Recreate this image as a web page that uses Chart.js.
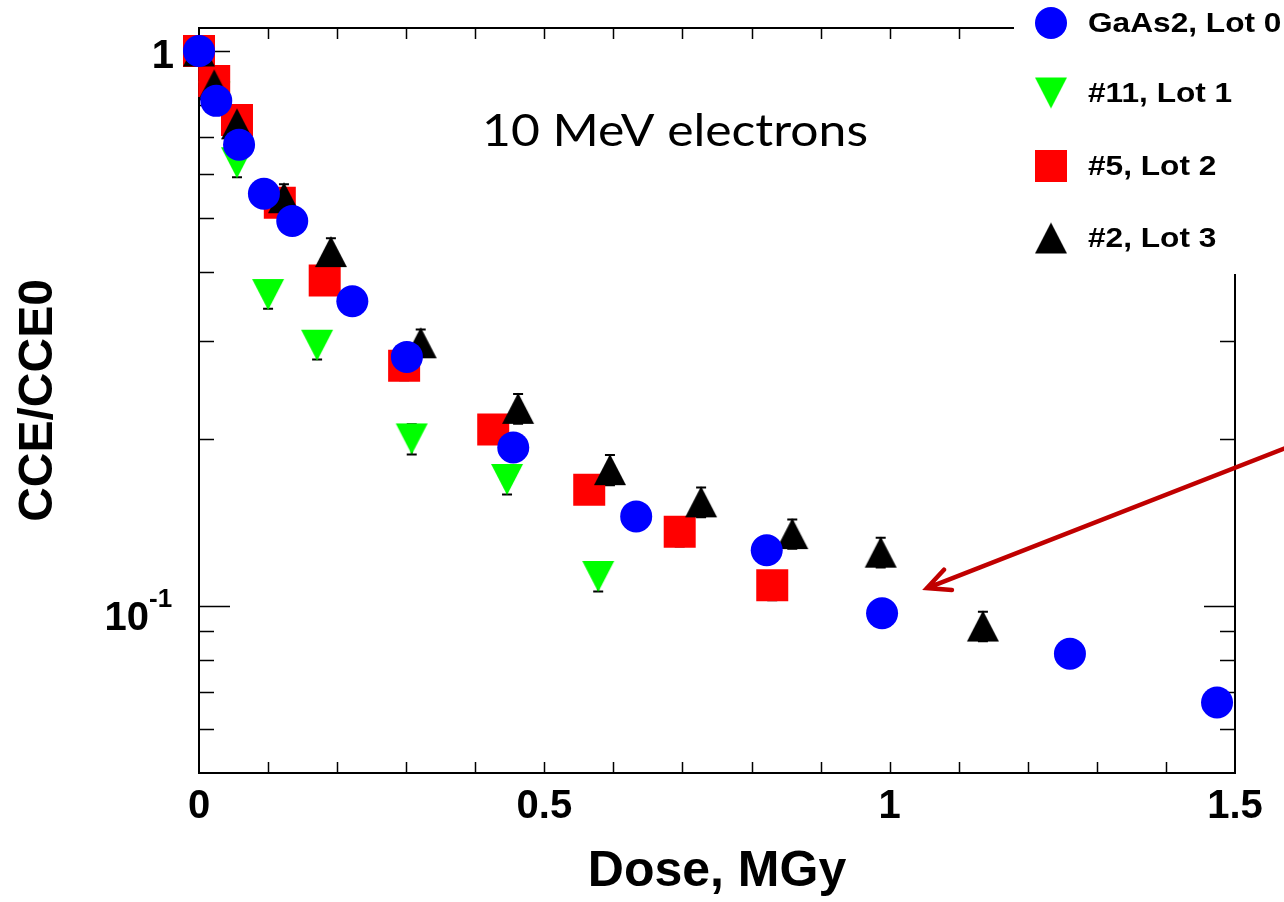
<!DOCTYPE html>
<html>
<head>
<meta charset="utf-8">
<title>CCE/CCE0 vs dose, 10 MeV electrons</title>
<script src="https://cdn.jsdelivr.net/npm/chart.js@4.4.1/dist/chart.umd.min.js"></script>
<style>
  html, body { margin: 0; padding: 0; background: #fff; }
  canvas { display: block; }
</style>
</head>
<body>
<canvas id="cce" width="1284" height="902"></canvas>
<script>
const seriesNames = ['GaAs2, Lot 0', '#11, Lot 1', '#5, Lot 2', '#2, Lot 3'];

// GaAs2, Lot 0
const doseLot0 = [0, 0.025, 0.058, 0.094, 0.135, 0.222, 0.301, 0.455, 0.633, 0.822, 0.989, 1.261, 1.474];
const cceLot0 = [1.0, 0.813, 0.678, 0.553, 0.494, 0.354, 0.281, 0.193, 0.145, 0.126, 0.097, 0.082, 0.067];

// #11, Lot 1
const doseLot1 = [0, 0.022, 0.055, 0.100, 0.171, 0.308, 0.446, 0.578];
const cceLot1 = [1.0, 0.827, 0.629, 0.364, 0.295, 0.200, 0.169, 0.113];
const errLot1 = [0.06, 0.048, 0.037, 0.021, 0.017, 0.0125, 0.0102, 0.0068];

// #5, Lot 2
const doseLot2 = [0, 0.022, 0.055, 0.117, 0.182, 0.297, 0.426, 0.565, 0.696, 0.830];
const cceLot2 = [1.0, 0.883, 0.751, 0.533, 0.386, 0.271, 0.208, 0.162, 0.136, 0.109];
const errLot2 = [0.06, 0.051, 0.043, 0.031, 0.022, 0.016, 0.012, 0.0094, 0.008, 0.0066];

// #2, Lot 3
const doseLot3 = [0, 0.022, 0.055, 0.123, 0.191, 0.321, 0.462, 0.595, 0.727, 0.859, 0.987, 1.135];
const cceLot3 = [1.0, 0.869, 0.739, 0.544, 0.435, 0.298, 0.227, 0.176, 0.154, 0.135, 0.125, 0.092];
const errLot3 = [0.06, 0.05, 0.042, 0.031, 0.025, 0.017, 0.014, 0.011, 0.0095, 0.0082, 0.0077, 0.0056];

// axis labels
const xTickValues = [0, 0.5, 1, 1.5];
const xTickLabels = ['0', '0.5', '1', '1.5'];
const yTickValues = [1, 0.1];
const yTickBases = ['1', '10'];
const yTickExponents = ['', '-1'];

const BOLD = '"Liberation Sans", Arial, sans-serif';

function toPoints(xs, ys, errs) {
  return xs.map((x, i) => ({ x: x, y: ys[i], err: errs ? errs[i] : 0 }));
}

// triangle markers drawn as small canvases so they sit centred on the point
function triangleMarker(color, down) {
  const c = document.createElement('canvas');
  c.width = 34;
  c.height = 33;
  const g = c.getContext('2d');
  g.fillStyle = color;
  g.beginPath();
  if (down) {
    g.moveTo(1, 1); g.lineTo(33, 1); g.lineTo(17, 32);
  } else {
    g.moveTo(17, 1); g.lineTo(33, 32); g.lineTo(1, 32);
  }
  g.closePath();
  g.fill();
  return c;
}

const greenDown = triangleMarker('#00ff00', true);
const blackUp = triangleMarker('#000000', false);

// frame with inward ticks on all four sides, plus error bars under the markers
const framePlugin = {
  id: 'frame',
  beforeDatasetsDraw(chart) {
    const { ctx, chartArea: a, scales: { x, y } } = chart;
    ctx.save();
    ctx.strokeStyle = '#000';
    ctx.lineWidth = 2;
    ctx.strokeRect(a.left, a.top, a.right - a.left, a.bottom - a.top);
    ctx.lineWidth = 1.5;
    ctx.beginPath();
    for (let i = 1; i < 15; i++) {
      const px = Math.round(x.getPixelForValue(i / 10)) + 0.5;
      ctx.moveTo(px, a.bottom); ctx.lineTo(px, a.bottom - 11);
      ctx.moveTo(px, a.top); ctx.lineTo(px, a.top + 11);
    }
    const yMinor = [0.06, 0.07, 0.08, 0.09, 0.2, 0.3, 0.4, 0.5, 0.6, 0.7, 0.8, 0.9];
    yMinor.forEach(v => {
      const py = Math.round(y.getPixelForValue(v)) + 0.5;
      ctx.moveTo(a.left, py); ctx.lineTo(a.left + 15, py);
      ctx.moveTo(a.right, py); ctx.lineTo(a.right - 15, py);
    });
    yTickValues.forEach(v => {
      const py = Math.round(y.getPixelForValue(v)) + 0.5;
      ctx.moveTo(a.left, py); ctx.lineTo(a.left + 31, py);
      ctx.moveTo(a.right, py); ctx.lineTo(a.right - 31, py);
    });
    ctx.stroke();

    // error bars
    ctx.lineWidth = 2;
    ctx.beginPath();
    chart.data.datasets.forEach(ds => {
      ds.data.forEach(p => {
        if (!p.err) return;
        const px = x.getPixelForValue(p.x);
        const hi = y.getPixelForValue(p.y + p.err);
        const lo = y.getPixelForValue(p.y - p.err);
        ctx.moveTo(px, hi); ctx.lineTo(px, lo);
        ctx.moveTo(px - 5, hi); ctx.lineTo(px + 5, hi);
        ctx.moveTo(px - 5, lo); ctx.lineTo(px + 5, lo);
      });
    });
    ctx.stroke();

    // y tick labels, 10^-1 written with a raised exponent
    ctx.fillStyle = '#000';
    ctx.textAlign = 'right';
    ctx.textBaseline = 'alphabetic';
    yTickValues.forEach((v, i) => {
      const py = y.getPixelForValue(v);
      if (yTickExponents[i]) {
        ctx.font = 'bold 40px ' + BOLD;
        ctx.fillText(yTickBases[i], 149, py + 24);
        ctx.textAlign = 'left';
        ctx.font = 'bold 26px ' + BOLD;
        ctx.fillText(yTickExponents[i], 149, py + 1);
        ctx.textAlign = 'right';
      } else {
        ctx.font = 'bold 40px ' + BOLD;
        ctx.fillText(yTickBases[i], 174, py + 17);
      }
    });
    ctx.restore();
  },
  afterDraw(chart) {
    const { ctx, scales: { x, y } } = chart;
    ctx.save();

    // annotation text
    ctx.font = '44px Lato, "DejaVu Sans", sans-serif';
    ctx.fillStyle = '#000';
    ctx.textBaseline = 'alphabetic';
    ctx.textAlign = 'left';
    const label = '10 MeV electrons';
    const w = ctx.measureText(label).width;
    ctx.translate(482, 146);
    ctx.scale(386 / w, 1);
    ctx.fillText(label, 0, 0);
    ctx.setTransform(1, 0, 0, 1, 0, 0);

    // arrow pointing at the 1 MGy region
    const tx = x.getPixelForValue(1.054), ty = y.getPixelForValue(0.1077);
    const sx = x.getPixelForValue(1.575), sy = y.getPixelForValue(0.193);
    const ang = Math.atan2(sy - ty, sx - tx);
    ctx.strokeStyle = '#c00000';
    ctx.lineWidth = 4.5;
    ctx.lineCap = 'round';
    ctx.beginPath();
    ctx.moveTo(sx, sy); ctx.lineTo(tx, ty);
    ctx.moveTo(tx + 25 * Math.cos(ang - 0.45), ty + 25 * Math.sin(ang - 0.45));
    ctx.lineTo(tx, ty);
    ctx.lineTo(tx + 25 * Math.cos(ang + 0.45), ty + 25 * Math.sin(ang + 0.45));
    ctx.stroke();

    // legend box in the upper right corner
    ctx.fillStyle = '#fff';
    ctx.fillRect(1014, 0, 270, 274);
    const rows = [23, 93, 166, 238];
    chart.data.datasets.forEach((ds, i) => {
      const cy = rows[i];
      const cx = 1051;
      ctx.fillStyle = ds.backgroundColor;
      if (ds.pointStyle === 'circle') {
        ctx.beginPath(); ctx.arc(cx, cy, 16, 0, Math.PI * 2); ctx.fill();
      } else if (ds.pointStyle === 'rect') {
        ctx.fillRect(cx - 16, cy - 16, 32, 32);
      } else {
        ctx.drawImage(ds.pointStyle, cx - 17, cy - 16.5);
      }
      ctx.fillStyle = '#000';
      ctx.font = 'bold 28px ' + BOLD;
      ctx.textBaseline = 'middle';
      ctx.save();
      ctx.translate(1088, cy + 1);
      ctx.scale(1.13, 1);
      ctx.fillText(ds.label, 0, 0);
      ctx.restore();
    });
    ctx.restore();
  }
};

new Chart(document.getElementById('cce'), {
  type: 'scatter',
  data: {
    datasets: [
      {
        label: seriesNames[0],
        data: toPoints(doseLot0, cceLot0),
        pointStyle: 'circle',
        pointRadius: 16,
        backgroundColor: '#0000ff',
        borderWidth: 0,
        order: 0,
      },
      {
        label: seriesNames[1],
        data: toPoints(doseLot1, cceLot1, errLot1),
        pointStyle: greenDown,
        backgroundColor: '#00ff00',
        borderWidth: 0,
        order: 3,
      },
      {
        label: seriesNames[2],
        data: toPoints(doseLot2, cceLot2, errLot2),
        pointStyle: 'rect',
        pointRadius: 16 * Math.SQRT2,
        backgroundColor: '#ff0000',
        borderWidth: 0,
        order: 2,
      },
      {
        label: seriesNames[3],
        data: toPoints(doseLot3, cceLot3, errLot3),
        pointStyle: blackUp,
        backgroundColor: '#000000',
        borderWidth: 0,
        order: 1,
      },
    ],
  },
  options: {
    responsive: false,
    animation: false,
    devicePixelRatio: 1,
    clip: false,
    layout: { padding: { top: 28, right: 49, left: 0, bottom: 0 } },
    plugins: {
      legend: { display: false },
      tooltip: { enabled: false },
    },
    scales: {
      x: {
        type: 'linear',
        min: 0,
        max: 1.5,
        grid: { display: false },
        border: { display: false },
        afterBuildTicks: (s) => { s.ticks = xTickValues.map(v => ({ value: v })); },
        ticks: {
          padding: 2,
          color: '#000',
          font: { family: BOLD, size: 40, weight: 'bold' },
          callback: (v) => xTickLabels[xTickValues.indexOf(v)],
        },
        title: {
          display: true,
          text: 'Dose, MGy',
          color: '#000',
          font: { family: BOLD, size: 50, weight: 'bold' },
          padding: { top: 0, bottom: 0 },
        },
        afterFit: (s) => { s.height = 129; },
      },
      y: {
        type: 'logarithmic',
        min: 0.05,
        max: 1.1,
        grid: { display: false },
        border: { display: false },
        ticks: { display: false },
        title: {
          display: true,
          text: 'CCE/CCE0',
          color: '#000',
          font: { family: BOLD, size: 48, weight: 'bold' },
          padding: { top: 10, bottom: 0 },
        },
        afterFit: (s) => { s.width = 199; },
      },
    },
  },
  plugins: [framePlugin],
});
</script>
</body>
</html>
